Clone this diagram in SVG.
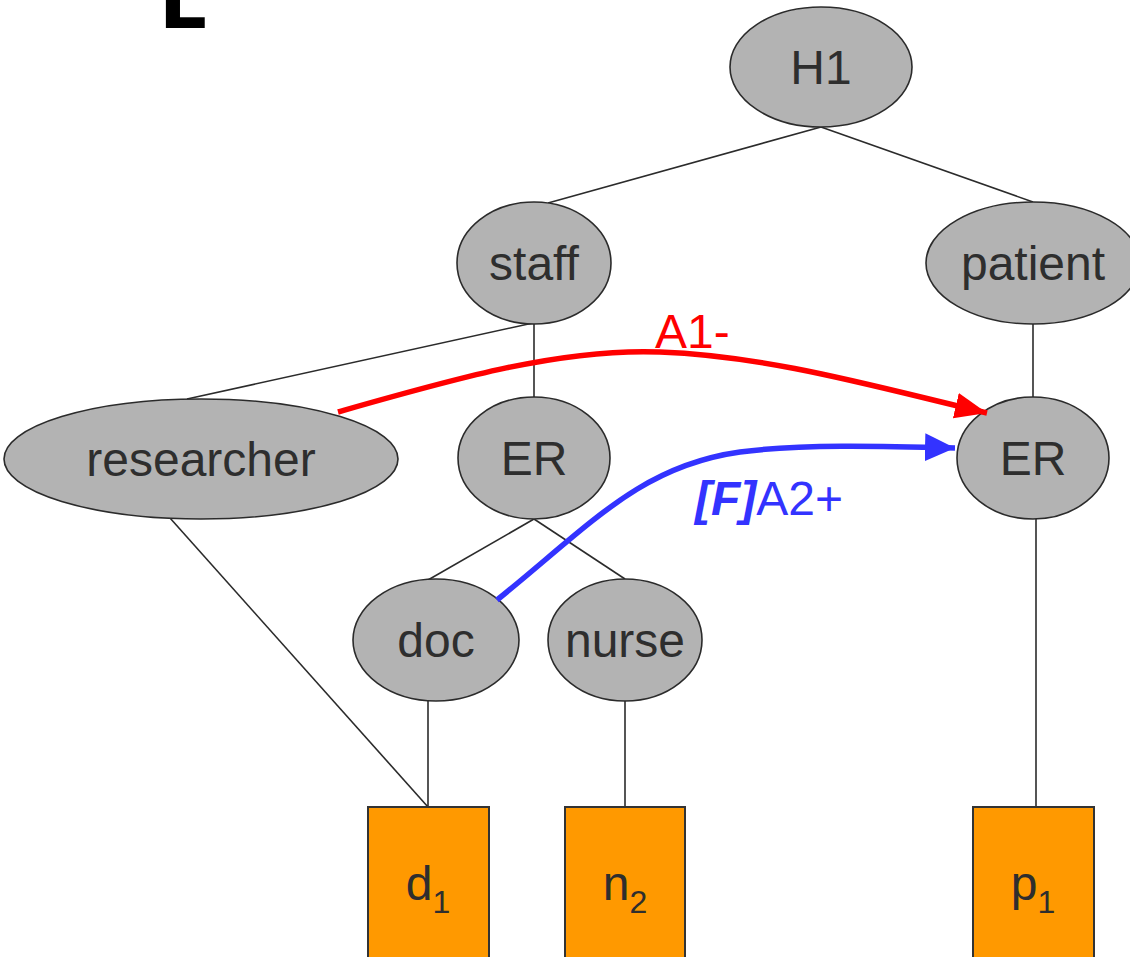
<svg xmlns="http://www.w3.org/2000/svg" width="1130" height="957" viewBox="0 0 1130 957">
  <style>
    .node ellipse { fill: #b3b3b3; stroke: #2b2b2b; stroke-width: 1.6; }
    .leaf rect { fill: #ff9900; stroke: #333333; stroke-width: 2; }
    .lbl { font-family: "Liberation Sans", Arial, sans-serif; font-size: 48px; fill: #2e2e2e; text-anchor: middle; }
    .sub { font-size: 32px; }
    .edge { stroke: #2b2b2b; stroke-width: 1.6; fill: none; }
  </style>
  <defs>
    <marker id="headRed" markerUnits="userSpaceOnUse" viewBox="0 0 32 26" refX="32" refY="13" markerWidth="32" markerHeight="26" orient="auto">
      <path d="M0,0 L32,13 L0,26 Z" fill="#ff0000"/>
    </marker>
    <marker id="headBlue" markerUnits="userSpaceOnUse" viewBox="0 0 30 28" refX="30" refY="14" markerWidth="30" markerHeight="28" orient="auto">
      <path d="M0,0 L30,14 L0,28 Z" fill="#3333ff"/>
    </marker>
  </defs>

  <rect width="1130" height="957" fill="#ffffff"/>

  <!-- corner letter, cropped by the top edge -->
  <text x="159" y="28" font-family="DejaVu Sans, sans-serif" font-weight="bold" font-size="75" fill="#000000">L</text>

  <!-- hierarchy edges -->
  <g id="connectors">
    <line class="edge" x1="821" y1="127" x2="548" y2="203"/>
    <line class="edge" x1="821" y1="127" x2="1033" y2="202"/>
    <line class="edge" x1="533" y1="323" x2="187" y2="399"/>
    <line class="edge" x1="534" y1="323" x2="534" y2="398"/>
    <line class="edge" x1="1033" y1="323" x2="1033" y2="398"/>
    <line class="edge" x1="170" y1="518" x2="428" y2="807"/>
    <line class="edge" x1="534" y1="519" x2="428" y2="580"/>
    <line class="edge" x1="534" y1="519" x2="625" y2="579"/>
    <line class="edge" x1="428" y1="701" x2="428" y2="807"/>
    <line class="edge" x1="625" y1="701" x2="625" y2="807"/>
    <line class="edge" x1="1036" y1="519" x2="1036" y2="807"/>
  </g>

  <g id="H1" class="node">
    <ellipse cx="821" cy="67" rx="91" ry="60"/>
    <text class="lbl" x="821" y="84">H1</text>
  </g>
  <g id="staff" class="node">
    <ellipse cx="534" cy="263" rx="77" ry="61"/>
    <text class="lbl" x="534" y="280">staff</text>
  </g>
  <g id="patient" class="node">
    <ellipse cx="1033" cy="263" rx="107" ry="61"/>
    <text class="lbl" x="1033" y="280">patient</text>
  </g>
  <g id="researcher" class="node">
    <ellipse cx="201" cy="459" rx="197" ry="60"/>
    <text class="lbl" x="201" y="476">researcher</text>
  </g>
  <g id="ER-staff" class="node">
    <ellipse cx="534" cy="458" rx="76" ry="61"/>
    <text class="lbl" x="534" y="475">ER</text>
  </g>
  <g id="ER-patient" class="node">
    <ellipse cx="1033" cy="458" rx="76" ry="61"/>
    <text class="lbl" x="1033" y="475">ER</text>
  </g>
  <g id="doc" class="node">
    <ellipse cx="436" cy="640" rx="83" ry="61"/>
    <text class="lbl" x="436" y="657">doc</text>
  </g>
  <g id="nurse" class="node">
    <ellipse cx="625" cy="640" rx="77" ry="61"/>
    <text class="lbl" x="625" y="657">nurse</text>
  </g>

  <g id="d1" class="leaf">
    <rect x="368" y="807" width="121" height="200"/>
    <text class="lbl" x="428" y="900"><tspan>d</tspan><tspan class="sub" dy="13">1</tspan></text>
  </g>
  <g id="n2" class="leaf">
    <rect x="565" y="807" width="120" height="200"/>
    <text class="lbl" x="625" y="900"><tspan>n</tspan><tspan class="sub" dy="13">2</tspan></text>
  </g>
  <g id="p1" class="leaf">
    <rect x="973" y="807" width="121" height="200"/>
    <text class="lbl" x="1033" y="900"><tspan>p</tspan><tspan class="sub" dy="13">1</tspan></text>
  </g>

  <!-- access relations -->
  <g id="relations">
    <path d="M338,412 C450,380 560,348 660,352 C770,356 880,388 987,413" fill="none" stroke="#ff0000" stroke-width="5.5" marker-end="url(#headRed)"/>
    <text x="655" y="348" font-family="Liberation Sans, Arial, sans-serif" font-size="48" fill="#ff0000">A1-</text>
    <path d="M497,600 C590,525 640,466 740,452 C800,444 880,446 955,448" fill="none" stroke="#3333ff" stroke-width="5.5" marker-end="url(#headBlue)"/>
    <text x="695" y="515" font-family="Liberation Sans, Arial, sans-serif" font-size="48" fill="#3333ff"><tspan font-weight="bold" font-style="italic">[F]</tspan><tspan>A2+</tspan></text>
  </g>
</svg>
